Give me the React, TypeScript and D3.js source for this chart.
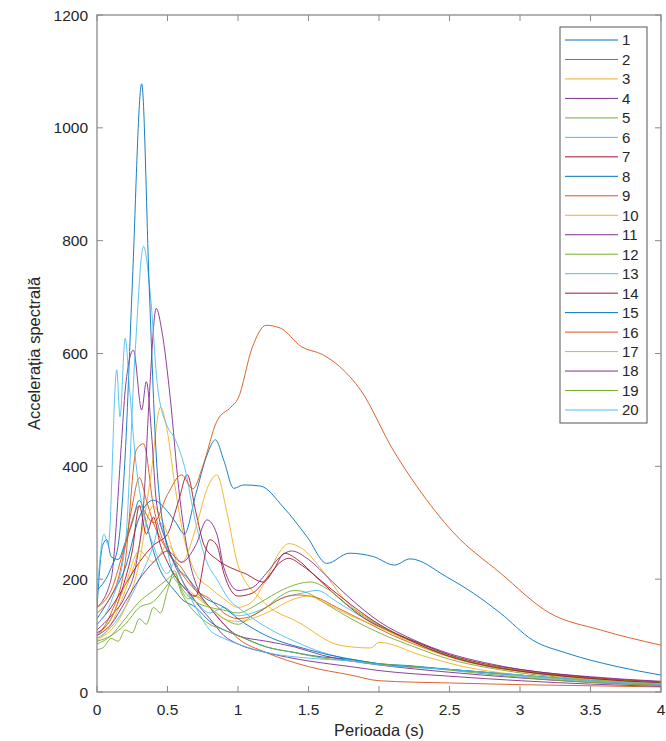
import React from 'react';
import * as d3 from 'd3';

const W = 666;
const H = 741;
const margin = { left: 97, right: 5, top: 15, bottom: 49 };

// [perioada (s), acceleratie]
const rec1 = [[0,150],[0.04,260],[0.07,270],[0.1,240],[0.15,235],[0.2,265],[0.25,300],[0.3,340],[0.35,300],[0.4,250],[0.45,215],[0.5,195],[0.55,180],[0.6,165],[0.7,150],[0.8,125],[0.9,110],[1.0,100],[1.2,80],[1.4,70],[1.6,62],[1.8,58],[2.0,50],[2.2,47],[2.5,40],[3,30],[3.5,20],[4,14]];
const rec2 = [[0,100],[0.1,140],[0.2,230],[0.28,430],[0.33,440],[0.4,330],[0.5,250],[0.6,220],[0.7,180],[0.8,150],[0.9,120],[1.0,95],[1.2,70],[1.5,45],[1.8,30],[2.0,20],[2.5,16],[3,13],[3.5,11],[4,9]];
const rec3 = [[0,90],[0.1,120],[0.2,180],[0.3,260],[0.38,380],[0.45,505],[0.5,460],[0.55,370],[0.62,270],[0.7,210],[0.8,185],[0.9,165],[1.0,150],[1.1,160],[1.2,200],[1.3,250],[1.36,263],[1.45,255],[1.6,215],[1.75,165],[2.0,120],[2.25,90],[2.5,65],[2.75,48],[3,38],[3.5,25],[4,17]];
const rec4 = [[0,110],[0.1,135],[0.2,170],[0.28,230],[0.33,330],[0.37,520],[0.42,680],[0.46,640],[0.52,520],[0.58,360],[0.65,240],[0.72,180],[0.8,150],[0.9,120],[1.0,100],[1.2,90],[1.4,80],[1.6,65],[1.8,55],[2.0,48],[2.5,35],[3,25],[3.5,17],[4,12]];
const rec5 = [[0,75],[0.05,80],[0.1,95],[0.15,90],[0.2,110],[0.25,105],[0.3,130],[0.35,120],[0.4,150],[0.45,140],[0.5,180],[0.55,215],[0.6,180],[0.65,165],[0.7,170],[0.8,150],[0.9,130],[1.0,120],[1.1,135],[1.2,150],[1.3,170],[1.4,180],[1.5,175],[1.6,160],[1.8,130],[2.0,105],[2.25,80],[2.5,58],[2.75,44],[3,34],[3.5,22],[4,15]];
const rec6 = [[0,95],[0.1,115],[0.2,150],[0.3,200],[0.4,260],[0.45,300],[0.5,250],[0.55,200],[0.6,190],[0.7,160],[0.8,140],[0.9,150],[1.0,135],[1.1,140],[1.2,150],[1.3,165],[1.45,175],[1.56,180],[1.7,160],[1.9,130],[2.1,105],[2.3,85],[2.5,65],[2.75,48],[3,37],[3.5,24],[4,16]];
const rec7 = [[0,120],[0.1,150],[0.2,190],[0.3,230],[0.4,260],[0.5,280],[0.58,340],[0.64,385],[0.7,320],[0.76,260],[0.85,235],[0.95,220],[1.05,210],[1.18,195],[1.25,215],[1.33,246],[1.42,235],[1.55,205],[1.7,170],[1.9,130],[2.1,105],[2.3,85],[2.5,66],[2.75,50],[3,40],[3.5,26],[4,18]];
const rec8 = [[0,130],[0.1,170],[0.2,220],[0.3,310],[0.4,340],[0.5,320],[0.56,300],[0.62,280],[0.7,350],[0.78,420],[0.84,447],[0.9,410],[0.97,361],[1.04,367],[1.16,365],[1.32,328],[1.49,275],[1.63,228],[1.79,246],[1.96,240],[2.11,225],[2.22,236],[2.48,204],[2.67,175],[2.86,140],[3.09,92],[3.33,69],[3.69,45],[4,30]];
const rec9 = [[0,140],[0.1,170],[0.15,200],[0.2,260],[0.25,330],[0.3,380],[0.35,340],[0.4,300],[0.5,250],[0.6,210],[0.7,180],[0.8,165],[0.9,140],[1.0,130],[1.1,135],[1.2,150],[1.3,165],[1.42,172],[1.55,168],[1.7,150],[1.9,125],[2.1,100],[2.3,80],[2.5,63],[2.75,48],[3,38],[3.5,25],[4,17]];
const rec10 = [[0,95],[0.1,110],[0.2,150],[0.3,230],[0.35,300],[0.4,330],[0.45,310],[0.5,280],[0.55,240],[0.6,200],[0.7,170],[0.8,150],[0.9,130],[1.0,125],[1.2,140],[1.4,165],[1.5,170],[1.6,160],[1.8,135],[2.0,115],[2.25,85],[2.5,62],[2.75,46],[3,36],[3.5,23],[4,16]];
const rec11 = [[0,150],[0.1,200],[0.175,447],[0.2,535],[0.258,606],[0.317,500],[0.35,550],[0.39,447],[0.42,340],[0.5,260],[0.6,200],[0.7,160],[0.8,130],[0.9,100],[1.0,85],[1.2,70],[1.5,55],[1.8,45],[2.0,38],[2.5,28],[3,20],[3.5,14],[4,10]];
const rec12 = [[0,85],[0.1,100],[0.2,130],[0.3,160],[0.4,180],[0.5,200],[0.55,210],[0.6,185],[0.7,160],[0.8,150],[0.9,145],[1.0,140],[1.1,150],[1.2,165],[1.35,185],[1.51,195],[1.65,180],[1.8,150],[2.0,118],[2.25,88],[2.5,64],[2.75,48],[3,37],[3.5,24],[4,16]];
const rec13 = [[0,120],[0.1,160],[0.2,260],[0.27,600],[0.33,790],[0.38,700],[0.43,540],[0.5,470],[0.55,450],[0.62,400],[0.7,300],[0.78,230],[0.85,200],[0.95,160],[1.0,150],[1.2,115],[1.4,90],[1.6,70],[1.8,58],[2.0,50],[2.5,40],[3,28],[3.5,18],[4,12]];
const rec14 = [[0,105],[0.1,130],[0.2,200],[0.25,250],[0.3,330],[0.35,280],[0.4,310],[0.45,260],[0.5,230],[0.6,190],[0.7,170],[0.8,270],[0.85,260],[0.9,210],[1.0,170],[1.1,175],[1.2,200],[1.3,230],[1.36,237],[1.45,225],[1.6,195],[1.8,155],[2.0,120],[2.25,88],[2.5,63],[2.75,47],[3,37],[3.5,24],[4,16]];
const rec15 = [[0,180],[0.1,220],[0.15,260],[0.2,420],[0.25,720],[0.317,1078],[0.37,720],[0.42,420],[0.48,280],[0.55,230],[0.65,200],[0.75,170],[0.9,150],[1.0,130],[1.2,100],[1.5,75],[2,50],[2.5,40],[3,30],[3.5,20],[4,15]];
const rec16 = [[0,150],[0.1,180],[0.2,260],[0.3,330],[0.4,300],[0.5,350],[0.6,385],[0.68,360],[0.75,400],[0.85,480],[0.95,505],[1.0,520],[1.1,610],[1.2,650],[1.3,645],[1.45,612],[1.6,598],[1.72,577],[1.87,535],[2.1,429],[2.27,364],[2.53,282],[2.86,211],[3.21,140],[3.57,110],[4,83]];
const rec17 = [[0,100],[0.1,130],[0.2,190],[0.3,250],[0.4,230],[0.5,260],[0.6,230],[0.7,290],[0.78,360],[0.85,385],[0.92,320],[1.0,225],[1.16,165],[1.44,122],[1.72,83],[1.94,78],[2.0,88],[2.3,65],[2.6,45],[3.0,30],[3.5,20],[4,15]];
const rec18 = [[0,100],[0.1,120],[0.2,160],[0.3,200],[0.4,230],[0.5,250],[0.6,230],[0.7,260],[0.78,305],[0.85,280],[0.9,220],[1.0,180],[1.1,185],[1.2,210],[1.3,240],[1.38,250],[1.5,235],[1.65,200],[1.8,165],[2.0,125],[2.25,92],[2.5,68],[2.75,52],[3,40],[3.5,27],[4,19]];
const rec19 = [[0,90],[0.1,100],[0.2,120],[0.3,150],[0.4,160],[0.5,190],[0.55,205],[0.6,175],[0.7,140],[0.8,120],[0.9,110],[1.0,100],[1.2,80],[1.4,70],[1.6,60],[1.8,55],[2.0,50],[2.3,44],[2.6,36],[3,26],[3.5,17],[4,12]];
const rec20 = [[0,170],[0.05,280],[0.08,260],[0.14,571],[0.163,488],[0.2,627],[0.23,540],[0.27,420],[0.32,330],[0.4,260],[0.5,210],[0.55,230],[0.6,200],[0.7,150],[0.8,110],[0.9,95],[1.0,85],[1.2,70],[1.5,60],[1.8,55],[2.0,48],[2.5,40],[3,30],[3.5,20],[4,14]];

const records = [rec1, rec2, rec3, rec4, rec5, rec6, rec7, rec8, rec9, rec10,
  rec11, rec12, rec13, rec14, rec15, rec16, rec17, rec18, rec19, rec20];
const labels = records.map((_, i) => String(i + 1));

// matlab default colororder
const palette = ['#0072BD', '#D95319', '#EDB120', '#7E2F8E', '#77AC30', '#4DBEEE', '#A2142F'];

const xTicks = [0, 0.5, 1, 1.5, 2, 2.5, 3, 3.5, 4];
const yTicks = [0, 200, 400, 600, 800, 1000, 1200];

const font = 'Arial, "Liberation Sans", Helvetica, sans-serif';

export default function App() {
  const x = d3.scaleLinear().domain([0, 4]).range([margin.left, W - margin.right]);
  const y = d3.scaleLinear().domain([0, 1200]).range([H - margin.bottom, margin.top]);
  const line = d3.line<number[]>()
    .x(d => x(d[0]))
    .y(d => y(d[1]))
    .curve(d3.curveMonotoneX);

  const x0 = x(0), x1 = x(4), y0 = y(0), y1 = y(1200);
  const tk = 6;
  const axisColor = '#8a8a8a';
  const textColor = '#262626';

  const legX = 560, legY = 27, legW = 87, legH = 396;
  const rowH = (legH - 26) / 19;

  return (
    <svg width={W} height={H} style={{ position: 'absolute', left: 0, top: 0, background: '#fff' }}>
      <defs>
        <clipPath id="plot">
          <rect x={x0} y={y1} width={x1 - x0} height={y0 - y1} />
        </clipPath>
      </defs>
      <rect x={0} y={0} width={W} height={H} fill="#fff" />

      <g clipPath="url(#plot)">
        {records.map((r, i) => (
          <path key={labels[i]} d={line(r) || ''} fill="none"
            stroke={palette[i % palette.length]} strokeWidth={1} strokeOpacity={0.9} />
        ))}
      </g>

      {/* box */}
      <rect x={x0} y={y1} width={x1 - x0} height={y0 - y1} fill="none" stroke={axisColor} strokeWidth={1.3} />

      {xTicks.map(t => (
        <g key={'x' + t}>
          <line x1={x(t)} x2={x(t)} y1={y0} y2={y0 - tk} stroke={axisColor} />
          <line x1={x(t)} x2={x(t)} y1={y1} y2={y1 + tk} stroke={axisColor} />
          <text x={x(t)} y={y0 + 23} textAnchor="middle" fontSize={15.5} fontFamily={font} fill={textColor}>
            {String(t)}
          </text>
        </g>
      ))}
      {yTicks.map(t => (
        <g key={'y' + t}>
          <line x1={x0} x2={x0 + tk} y1={y(t)} y2={y(t)} stroke={axisColor} />
          <line x1={x1} x2={x1 - tk} y1={y(t)} y2={y(t)} stroke={axisColor} />
          <text x={x0 - 9} y={y(t)} dy="0.36em" textAnchor="end" fontSize={15.5} fontFamily={font} fill={textColor}>
            {String(t)}
          </text>
        </g>
      ))}

      <text x={(x0 + x1) / 2} y={H - 5} textAnchor="middle" fontSize={16.5} fontFamily={font} fill={textColor}>
        Perioada (s)
      </text>
      <text transform={`translate(40,${(y0 + y1) / 2}) rotate(-90)`} textAnchor="middle"
        fontSize={16.5} fontFamily={font} fill={textColor}>
        Accelerația spectrală
      </text>

      {/* legend */}
      <rect x={legX} y={legY} width={legW} height={legH} fill="#fff" stroke="#555" strokeWidth={1} />
      {labels.map((lab, i) => {
        const ly = legY + 13 + i * rowH;
        return (
          <g key={'leg' + lab}>
            <line x1={legX + 5} x2={legX + 58} y1={ly} y2={ly}
              stroke={palette[i % palette.length]} strokeWidth={1} />
            <text x={legX + 62} y={ly} dy="0.36em" fontSize={15} fontFamily={font} fill={textColor}>
              {lab}
            </text>
          </g>
        );
      })}
    </svg>
  );
}
